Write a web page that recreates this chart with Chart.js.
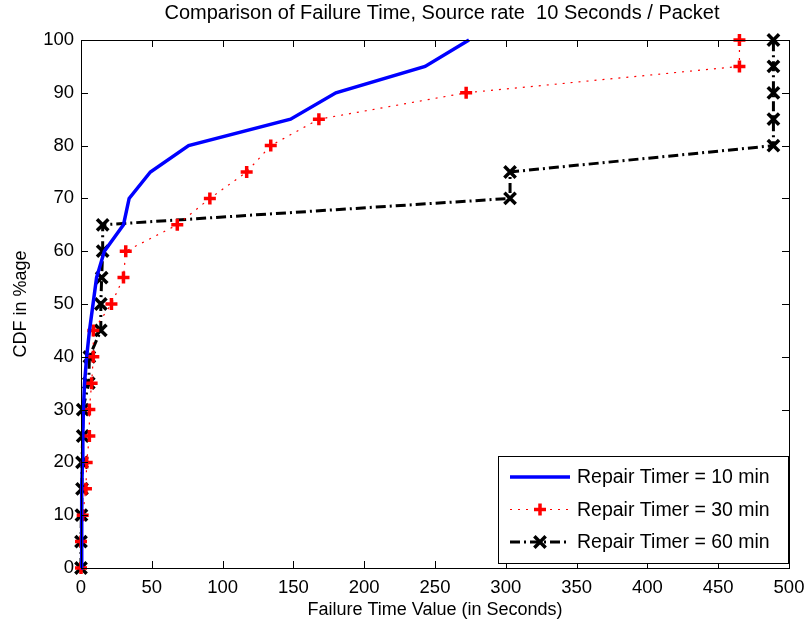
<!DOCTYPE html>
<html>
<head>
<meta charset="utf-8">
<script src="https://cdn.jsdelivr.net/npm/chart.js@4"></script>
<style>
  html, body { margin: 0; padding: 0; background: #fff; }
  #wrap { width: 806px; height: 622px; }
</style>
</head>
<body>
<div id="wrap"><canvas id="failureChart" width="806" height="622"></canvas></div>
<script>
// CDF levels (%) and the failure time (s) at which each level is reached
const cdfLevels = [0, 5, 10, 15, 20, 25, 30, 35, 40, 45, 50, 55, 60, 65, 70, 75, 80, 85, 90, 95, 100];
const timer10 = [0, 0.3, 0.5, 0.7, 1, 1.3, 1.7, 2.5, 4, 6, 8.5, 11, 16.5, 30, 34, 49, 76, 148, 180, 243, 274];
const timer30 = [0, 0, 1.2, 3.5, 4, 5.9, 5.9, 7.5, 8.7, 8.7, 21.5, 30, 31.6, 68, 91, 117, 134, 168, 272, 465, 465];
const timer60 = [0, 0, 0.3, 0.7, 0.7, 1.2, 1.2, 5.5, 5.9, 14, 14, 14.6, 15.3, 15.3, 303, 303, 489, 489, 489, 489, 489];
const seriesLabels = ["Repair Timer = 10 min", "Repair Timer = 30 min", "Repair Timer = 60 min"];
const xTicks = [0, 50, 100, 150, 200, 250, 300, 350, 400, 450, 500];
const yTicks = [0, 10, 20, 30, 40, 50, 60, 70, 80, 90, 100];
const chartTitle = "Comparison of Failure Time, Source rate  10 Seconds / Packet";

const FONT = "'Liberation Sans', Arial, Helvetica, sans-serif";

function toPoints(xs) {
    return xs.map((x, i) => ({ x: x, y: cdfLevels[i] }));
}

// MATLAB style box with inward ticks on all four sides, plus the title over the axes
const boxTicks = {
    id: "boxTicks",
    afterDraw(chart) {
        const ctx = chart.ctx;
        const a = chart.chartArea;
        const xs = chart.scales.x, ys = chart.scales.y;
        ctx.save();
        ctx.strokeStyle = "#000";
        ctx.lineWidth = 1;
        ctx.setLineDash([]);
        ctx.strokeRect(a.left + 0.5, a.top + 0.5, a.right - a.left, a.bottom - a.top);
        ctx.beginPath();
        xTicks.forEach(v => {
            const px = Math.round(xs.getPixelForValue(v)) + 0.5;
            ctx.moveTo(px, a.bottom); ctx.lineTo(px, a.bottom - 7);
            ctx.moveTo(px, a.top); ctx.lineTo(px, a.top + 7);
        });
        yTicks.forEach(v => {
            const py = Math.round(ys.getPixelForValue(v)) + 0.5;
            ctx.moveTo(a.left, py); ctx.lineTo(a.left + 7, py);
            ctx.moveTo(a.right, py); ctx.lineTo(a.right - 7, py);
        });
        ctx.stroke();

        ctx.fillStyle = "#000";
        ctx.font = "20px " + FONT;
        ctx.textAlign = "center";
        ctx.textBaseline = "middle";
        ctx.fillText(chartTitle, (a.left + a.right) / 2 + 7, 13);
        ctx.restore();
    }
};

// legend box inside the lower right corner
const boxLegend = {
    id: "boxLegend",
    afterDraw(chart) {
        const ctx = chart.ctx;
        const a = chart.chartArea;
        const w = 290, h = 107;
        const left = a.right - w - 1, top = a.bottom - h - 5;
        ctx.save();
        ctx.fillStyle = "#fff";
        ctx.fillRect(left, top, w, h);
        ctx.strokeStyle = "#000";
        ctx.lineWidth = 1;
        ctx.strokeRect(left + 0.5, top + 0.5, w, h);
        ctx.font = "19.5px " + FONT;
        ctx.textBaseline = "middle";
        chart.data.datasets.forEach((ds, i) => {
            const cy = top + 21 + i * 32.5;
            ctx.strokeStyle = ds.borderColor;
            ctx.lineWidth = ds.borderWidth;
            ctx.setLineDash(ds.borderDash || []);
            ctx.beginPath();
            ctx.moveTo(left + 12, cy);
            ctx.lineTo(left + 72, cy);
            ctx.stroke();
            ctx.setLineDash([]);
            if (ds.pointRadius > 0) {
                ctx.strokeStyle = ds.pointBorderColor;
                ctx.lineWidth = ds.pointBorderWidth;
                Chart.helpers.drawPoint(ctx, {
                    pointStyle: ds.pointStyle,
                    radius: ds.pointRadius,
                    borderWidth: ds.pointBorderWidth
                }, left + 42, cy);
            }
            ctx.fillStyle = "#000";
            ctx.fillText(ds.label, left + 79, cy + 1);
        });
        ctx.restore();
    }
};

new Chart(document.getElementById("failureChart"), {
    type: "line",
    data: {
        datasets: [{
            label: seriesLabels[0],
            data: toPoints(timer10),
            borderColor: "#0000ff",
            borderWidth: 3.5,
            pointRadius: 0,
            tension: 0,
            clip: false
        }, {
            label: seriesLabels[1],
            data: toPoints(timer30),
            borderColor: "#ff0000",
            borderWidth: 1.2,
            borderDash: [2, 6],
            pointStyle: "cross",
            pointRadius: 6,
            pointBorderWidth: 3.5,
            pointBorderColor: "#ff0000",
            pointBackgroundColor: "#ff0000",
            tension: 0,
            clip: false
        }, {
            label: seriesLabels[2],
            data: toPoints(timer60),
            borderColor: "#000000",
            borderWidth: 3,
            borderDash: [10, 4, 2, 4],
            pointStyle: "crossRot",
            pointRadius: 8,
            pointBorderWidth: 3.5,
            pointBorderColor: "#000000",
            pointBackgroundColor: "#000000",
            tension: 0,
            clip: false
        }]
    },
    options: {
        responsive: false,
        animation: false,
        events: [],
        layout: { padding: { left: 0, right: 17, top: 40, bottom: 0 } },
        plugins: {
            legend: { display: false },
            tooltip: { enabled: false },
            title: { display: false }
        },
        scales: {
            x: {
                type: "linear",
                min: 0,
                max: 500,
                afterBuildTicks(scale) { scale.ticks = xTicks.map(v => ({ value: v })); },
                afterFit(scale) {
                    scale.height = 54;
                    scale.paddingLeft = 0;
                    scale.paddingRight = 0;
                },
                grid: { display: false, drawTicks: false },
                border: { display: false },
                ticks: { color: "#000", font: { family: FONT, size: 18.5 }, padding: 9, maxRotation: 0 },
                title: {
                    display: true,
                    text: "Failure Time Value (in Seconds)",
                    color: "#000",
                    font: { family: FONT, size: 18 },
                    padding: { top: 0, bottom: 1 }
                }
            },
            y: {
                type: "linear",
                min: 0,
                max: 100,
                afterBuildTicks(scale) { scale.ticks = yTicks.map(v => ({ value: v })); },
                afterFit(scale) {
                    scale.width = 81;
                    scale.paddingTop = 0;
                    scale.paddingBottom = 0;
                },
                grid: { display: false, drawTicks: false },
                border: { display: false },
                ticks: { color: "#000", font: { family: FONT, size: 18.5 }, padding: 7 },
                title: {
                    display: true,
                    text: "CDF in %age",
                    color: "#000",
                    font: { family: FONT, size: 18 },
                    padding: { top: 10, bottom: 0 }
                }
            }
        }
    },
    plugins: [boxTicks, boxLegend]
});
</script>
</body>
</html>
